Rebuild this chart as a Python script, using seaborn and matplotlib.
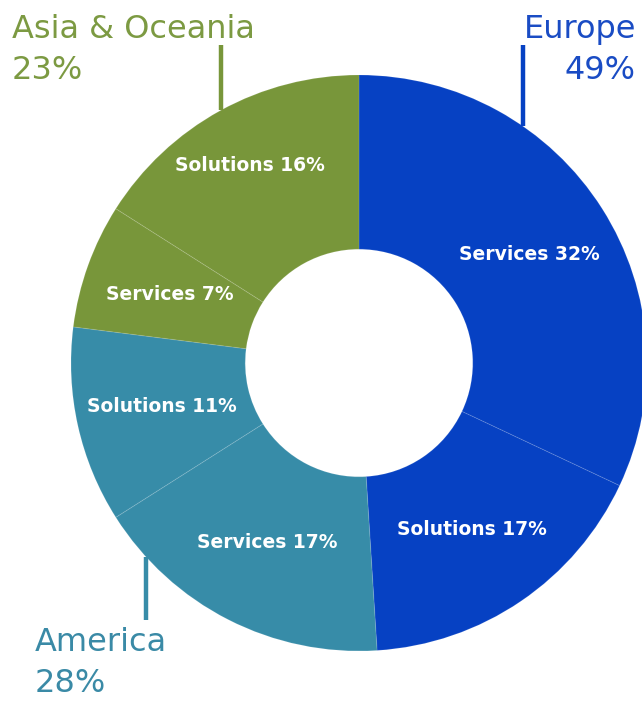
import matplotlib
matplotlib.use('Agg')

import numpy as np
import matplotlib.pyplot as plt
import seaborn as sns

# DATA
slice_labels = ['Services 32%', 'Solutions 17%', 'Services 17%',
                'Solutions 11%', 'Services 7%', 'Solutions 16%']
slice_values = [32, 17, 17, 11, 7, 16]
slice_region = ['Europe', 'Europe', 'America', 'America', 'Asia', 'Asia']

regions = ['Europe', 'America', 'Asia']
region_names = {'Europe': 'Europe', 'America': 'America', 'Asia': 'Asia & Oceania'}
region_share = {'Europe': 49, 'America': 28, 'Asia': 23}
region_colors = {'Europe': '#0641c3', 'America': '#378ca8', 'Asia': '#78963a'}
text_colors = {'Europe': '#1a4cc4', 'America': '#3a8aa6', 'Asia': '#7c9a42'}

sns.set_theme(style='white')
plt.rcParams['font.family'] = ['DejaVu Sans']

W, H = 642, 702
fig = plt.figure(figsize=(W / 100, H / 100), dpi=100)
cx, cy, R = 359, 363, 288
ax = fig.add_axes([(cx - R) / W, (H - cy - R) / H, 2 * R / W, 2 * R / H])

colors = [region_colors[r] for r in slice_region]
wedges, texts = ax.pie(slice_values, labels=slice_labels, colors=colors,
                       startangle=90, counterclock=False, radius=1,
                       labeldistance=0.70,
                       wedgeprops=dict(width=0.605, linewidth=0.8,
                                       edgecolor=(1, 1, 1, 0.10)),
                       textprops=dict(color='white', fontsize=13.5,
                                      fontweight='bold',
                                      ha='center', va='center'))
for t in texts:
    t.set_horizontalalignment('center')
texts[-1].set_position(np.array(texts[-1].get_position()) * 1.12)

ax.set_xlim(-1, 1)
ax.set_ylim(-1, 1)
ax.set_aspect('equal')
ax.axis('off')

# leader lines from the ring to the region labels
def leader(x, y_top, color):
    y_edge = np.sqrt(1 - x ** 2) * np.sign(y_top)
    ax.plot([x, x], [y_edge, y_top], color=color, lw=3.2,
            solid_capstyle='butt', clip_on=False)

leader(-0.479, 1.105, region_colors['Asia'])
leader(0.569, 1.105, region_colors['Europe'])
leader(-0.74, -0.892, region_colors['America'])

fs = 23
fig.text(12 / W, 1 - 14 / H, region_names['Asia'] + '\n' + f"{region_share['Asia']}%",
         color=text_colors['Asia'], fontsize=fs, ha='left', va='top',
         linespacing=1.4)
fig.text(636 / W, 1 - 14 / H, region_names['Europe'] + '\n' + f"{region_share['Europe']}%",
         color=text_colors['Europe'], fontsize=fs, ha='right', va='top',
         multialignment='right', linespacing=1.4)
fig.text(35 / W, 1 - 627 / H, region_names['America'] + '\n' + f"{region_share['America']}%",
         color=text_colors['America'], fontsize=fs, ha='left', va='top',
         linespacing=1.4)

fig.savefig('out.png', dpi=100)
